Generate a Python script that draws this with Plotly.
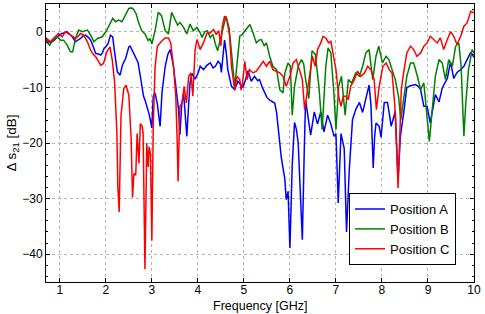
import plotly.graph_objects as go

# Position A (blue)
freq_a = [0.70,0.72,0.78,0.83,0.88,0.94,1.00,1.05,1.10,1.16,1.22,1.27,1.34,1.40,1.45,1.50,1.56,1.62,1.67,1.72,
          1.78,1.84,1.89,1.93,1.96,2.01,2.05,2.10,2.15,2.19,2.22,2.25,2.31,2.36,2.43,2.47,2.50,2.53,2.57,2.61,
          2.65,2.70,2.75,2.82,2.86,2.90,2.94,2.97,3.00,3.03,3.07,3.12,3.18,3.22,3.29,3.35,3.40,3.47,3.53,3.58,
          3.61,3.65,3.69,3.72,3.76,3.80,3.83,3.87,3.94,4.00,4.05,4.12,4.20,4.27,4.33,4.38,4.44,4.49,4.51,4.55,
          4.58,4.62,4.65,4.73,4.80,4.87,4.93,4.98,5.04,5.09,5.16,5.23,5.30,5.34,5.40,5.45,5.50,5.56,5.62,5.67,
          5.71,5.74,5.78,5.81,5.85,5.89,5.92,5.96,6.00,6.05,6.10,6.14,6.18,6.21,6.24,6.27,6.31,6.34,6.38,6.45,
          6.53,6.60,6.67,6.74,6.82,6.89,6.96,7.00,7.05,7.11,7.18,7.23,7.29,7.36,7.43,7.51,7.58,7.65,7.72,7.76,
          7.78,7.81,7.84,7.87,7.94,7.98,8.05,8.12,8.16,8.20,8.25,8.29,8.35,8.40,8.47,8.54,8.62,8.73,8.79,8.84,
          8.91,8.98,9.05,9.09,9.16,9.24,9.31,9.42,9.49,9.56,9.63,9.71,9.78,9.85,9.93,10.00]
ds21_a = [-1.5,-1.5,-1.9,-1.8,-1.5,-0.9,-0.5,-0.3,-0.1,0.0,-0.5,-0.9,-1.8,-1.5,-1.2,-0.8,-0.6,-1.0,-1.5,-2.5,
          -3.9,-4.0,-4.2,-3.7,-3.0,-2.6,-2.1,-0.6,-0.9,-3.6,-5.5,-7.2,-7.8,-6.0,-4.8,-3.5,-2.7,-2.6,-3.3,-3.9,
          -4.5,-5.5,-8.0,-11.6,-12.5,-13.5,-14.8,-16.0,-17.3,-11.6,-11.0,-13.0,-17.0,-11.0,-6.2,-4.0,-3.2,-6.2,-10.0,-14.0,
          -18.5,-13.0,-11.0,-14.0,-18.8,-13.0,-9.2,-7.5,-8.5,-7.5,-6.2,-6.8,-6.0,-5.6,-6.5,-6.2,-5.3,-5.8,-7.3,-4.0,
          -1.5,-4.0,-6.8,-9.8,-10.4,-8.9,-9.5,-10.0,-8.5,-7.0,-8.9,-8.0,-8.8,-8.6,-10.0,-11.0,-11.8,-12.3,-12.5,-12.8,
          -14.5,-17.0,-20.0,-22.4,-24.5,-26.5,-30.2,-28.7,-38.9,-24.0,-16.3,-17.5,-20.0,-26.0,-30.0,-37.4,-22.0,-12.4,-14.5,-18.6,
          -14.4,-16.6,-14.4,-18.0,-15.0,-16.6,-18.8,-18.3,-30.8,-18.3,-21.0,-36.0,-24.8,-15.8,-14.0,-12.7,-14.5,-12.0,-9.6,-13.0,
          -18.3,-24.5,-19.0,-16.4,-17.0,-19.0,-12.7,-12.7,-14.7,-17.0,-15.5,-14.3,-26.7,-18.8,-14.7,-10.0,-9.7,-9.5,-9.8,-10.4,
          -13.4,-13.4,-16.4,-14.3,-11.3,-12.6,-10.1,-8.4,-5.4,-8.4,-7.3,-6.8,-6.2,-5.0,-3.7,-4.6]

# Position B (green)
freq_b = [0.70,0.72,0.78,0.85,0.94,1.02,1.08,1.16,1.23,1.28,1.34,1.41,1.49,1.55,1.60,1.67,1.74,1.82,1.92,2.00,
          2.07,2.15,2.21,2.28,2.35,2.43,2.50,2.56,2.60,2.66,2.71,2.78,2.85,2.92,2.96,3.00,3.07,3.14,3.21,3.29,
          3.36,3.43,3.51,3.56,3.61,3.69,3.76,3.83,3.90,3.98,4.04,4.09,4.15,4.20,4.27,4.33,4.38,4.43,4.49,4.55,
          4.61,4.68,4.72,4.76,4.80,4.84,4.91,4.96,5.02,5.08,5.13,5.20,5.27,5.33,5.38,5.44,5.49,5.56,5.63,5.71,
          5.78,5.85,5.89,5.96,6.01,6.05,6.10,6.18,6.25,6.30,6.34,6.41,6.48,6.55,6.63,6.70,6.78,6.83,6.89,6.96,
          7.00,7.06,7.12,7.20,7.27,7.34,7.43,7.51,7.58,7.65,7.72,7.80,7.87,7.93,8.01,8.09,8.15,8.22,8.29,8.36,
          8.41,8.47,8.54,8.62,8.69,8.77,8.84,8.91,8.98,9.03,9.09,9.16,9.24,9.31,9.38,9.45,9.53,9.60,9.67,9.72,
          9.78,9.82,9.88,9.96,10.00]
ds21_b = [-1.0,-1.8,-2.4,-1.5,-0.9,-1.5,-1.5,-2.4,-3.6,-3.6,-1.2,0.3,0.0,0.2,0.3,-0.6,-1.8,-1.2,-0.9,0.0,
          1.2,2.4,1.8,2.1,1.8,3.0,4.2,4.3,4.1,3.2,1.7,0.2,-0.4,-1.6,-1.2,-2.2,0.2,3.5,2.9,0.2,
          -0.4,3.5,2.0,1.2,1.7,0.8,-0.4,1.4,0.2,0.8,0.0,-1.0,0.0,0.2,-1.0,-0.5,-2.2,-3.4,-1.3,1.0,
          2.8,0.6,-2.5,-6.2,-10.0,-6.8,-0.8,-0.5,0.1,0.8,1.3,-0.2,-2.0,-1.5,-1.4,-2.5,-2.0,-4.4,-6.2,-6.8,
          -10.4,-11.0,-7.4,-5.6,-6.2,-15.0,-9.8,-6.2,-5.0,-5.8,-8.5,-12.0,-3.4,-4.0,-9.8,-17.6,-6.2,-2.9,-3.8,-11.6,
          -17.6,-9.8,-8.0,-15.0,-8.6,-9.2,-7.4,-8.0,-6.2,-3.8,-3.2,-8.6,-4.4,-2.6,-5.6,-4.4,-5.0,-6.8,-8.6,-11.6,
          -15.8,-12.2,-8.0,-5.6,-5.6,-8.0,-10.4,-9.2,-15.0,-19.7,-14.2,-8.0,-5.0,-5.6,-8.6,-5.0,-6.2,-2.6,-2.0,-6.2,
          -18.8,-13.0,-6.8,-3.2,-3.8]

# Position C (red)
freq_c = [0.70,0.72,0.79,0.85,0.90,0.97,1.05,1.12,1.18,1.23,1.34,1.40,1.45,1.52,1.60,1.67,1.72,1.78,1.84,1.89,
          1.95,2.02,2.09,2.14,2.19,2.24,2.26,2.29,2.33,2.39,2.44,2.50,2.55,2.58,2.61,2.65,2.68,2.72,2.75,2.79,
          2.81,2.85,2.89,2.92,2.94,2.97,3.00,3.03,3.07,3.12,3.21,3.29,3.36,3.41,3.47,3.52,3.55,3.57,3.61,3.66,
          3.70,3.75,3.80,3.85,3.89,3.94,3.98,4.05,4.12,4.20,4.27,4.34,4.40,4.45,4.50,4.53,4.58,4.63,4.69,4.73,
          4.76,4.80,4.85,4.91,4.94,4.97,5.02,5.07,5.12,5.20,5.27,5.34,5.42,5.49,5.56,5.63,5.71,5.78,5.85,5.92,
          6.00,6.07,6.14,6.21,6.27,6.32,6.38,6.43,6.49,6.55,6.60,6.67,6.72,6.78,6.84,6.89,6.94,7.00,7.06,7.11,
          7.16,7.22,7.27,7.32,7.40,7.47,7.54,7.62,7.69,7.76,7.83,7.88,7.94,8.02,8.09,8.16,8.22,8.28,8.32,8.35,
          8.39,8.42,8.47,8.54,8.62,8.69,8.76,8.84,8.91,8.98,9.05,9.13,9.20,9.27,9.34,9.42,9.49,9.56,9.63,9.71,
          9.78,9.85,9.93,10.00]
ds21_c = [-2.0,-1.2,-1.8,-1.3,-0.9,-0.3,-0.9,0.0,-0.3,-0.6,-1.2,-0.8,-0.3,-0.6,-1.8,-3.3,-4.0,-4.5,-5.2,-6.0,
          -5.7,-3.6,-2.7,-5.1,-9.0,-18.0,-27.6,-32.4,-15.0,-10.2,-9.6,-11.4,-19.2,-29.8,-25.5,-25.8,-18.3,-23.7,-16.5,-17.0,
          -18.3,-42.7,-20.0,-24.3,-20.7,-22.0,-37.6,-17.0,-6.3,-2.6,-1.7,-1.1,-1.1,-2.0,-6.2,-11.6,-19.4,-26.9,-13.4,-12.8,
          -9.8,-12.8,-8.0,-7.4,-11.6,-3.2,-1.4,-3.2,-2.0,-0.2,-0.2,0.4,-0.5,0.2,-2.5,1.0,2.8,2.2,-0.8,-6.2,
          -8.0,-10.4,-8.0,-8.6,-10.5,-9.2,-5.3,-8.6,-6.8,-7.4,-7.1,-6.2,-5.3,-6.2,-5.3,-6.8,-7.1,-7.4,-8.0,-9.8,
          -8.0,-5.6,-5.0,-6.8,-8.6,-14.0,-10.4,-7.4,-4.4,-6.2,-3.2,-2.0,-0.8,-1.1,-2.0,-1.7,-3.8,-6.8,-11.6,-13.4,
          -11.6,-11.6,-12.2,-9.8,-8.6,-7.1,-8.0,-7.4,-6.2,-6.8,-8.6,-14.0,-9.8,-6.2,-5.6,-6.8,-7.4,-13.4,-21.2,-28.1,
          -18.2,-10.4,-7.4,-3.8,-2.6,-3.2,-4.4,-3.8,-2.6,-2.0,-0.8,-1.4,-2.0,-1.1,-3.2,-1.4,0.0,-0.8,-2.3,-0.8,
          1.0,1.6,3.7,3.4]

x_ticks = [1, 2, 3, 4, 5, 6, 7, 8, 9, 10]
y_ticks = [0, -10, -20, -30, -40]
series_names = ["Position A", "Position B", "Position C"]
series_colors = ["rgb(0,0,255)", "rgb(0,128,0)", "rgb(255,0,0)"]

fig = go.Figure()
for name, color, xs, ys in zip(series_names, series_colors,
                               [freq_a, freq_b, freq_c], [ds21_a, ds21_b, ds21_c]):
    fig.add_trace(go.Scatter(x=xs, y=ys, mode="lines", name=name,
                             line=dict(color=color, width=1.5)))

font_family = "Liberation Sans, Arial, sans-serif"
axis_common = dict(
    showline=True, linecolor="black", linewidth=1, mirror="allticks",
    ticks="inside", ticklen=4, tickcolor="black", tickwidth=1,
    showgrid=True, gridcolor="rgb(180,180,180)", griddash="dot", gridwidth=1,
    zeroline=False, automargin=False,
    tickfont=dict(family=font_family, size=12, color="black"),
)

fig.update_layout(
    width=485, height=314,
    margin=dict(l=46, r=11, t=4, b=32),
    paper_bgcolor="white", plot_bgcolor="white",
    font=dict(family=font_family, size=12, color="black"),
    showlegend=True,
    legend=dict(x=0.958, y=0.061, xanchor="right", yanchor="bottom",
                bgcolor="white", bordercolor="black", borderwidth=1,
                font=dict(family=font_family, size=13, color="black"),
                tracegroupgap=0, itemwidth=30),
    annotations=[dict(text="Frequency [GHz]", xref="paper", yref="paper",
                      x=0.5, y=0, xanchor="center", yanchor="top", yshift=-16,
                      borderpad=0, showarrow=False,
                      font=dict(family=font_family, size=12.5, color="black"))],
)
fig.update_xaxes(range=[0.7, 10], tickvals=x_ticks, ticktext=[str(v) for v in x_ticks],
                 ticklabelstandoff=-3, **axis_common)
fig.update_yaxes(range=[-45, 5], tickvals=y_ticks,
                 title=dict(text="Δ s<sub>21</sub> [dB]", standoff=2,
                            font=dict(family=font_family, size=13.5)),
                 minor=dict(dtick=2, ticks="inside", ticklen=2, tickcolor="black", showgrid=False),
                 **axis_common)

fig.write_html("out.html")
